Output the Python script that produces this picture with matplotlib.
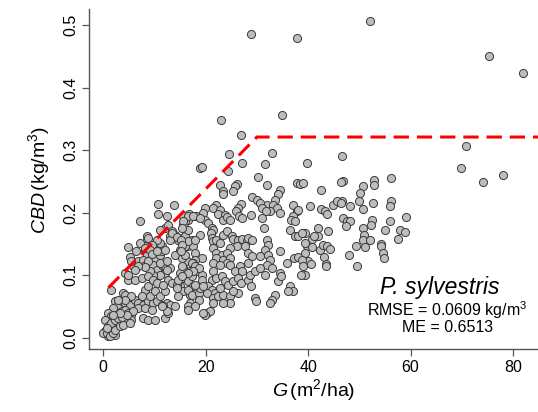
import numpy as np
import matplotlib
matplotlib.use("Agg")
import matplotlib.pyplot as plt

# ======================================================
# DATA
# ======================================================
# stand basal area G (m2/ha) and crown bulk density CBD (kg/m3)
g_high = [46.6, 56.2, 52.9, 52.9, 50.8, 50.1, 46.8, 46.6, 48.2, 50.0, 50.7, 52.7, 56.2, 56.0,
          46.8, 47.5, 48.2, 47.4, 52.5, 52.2, 56.0, 59.1, 50.7, 55.0, 57.9, 58.9, 57.6, 50.9,
          50.7, 52.0, 54.2, 54.2, 49.4, 51.1, 48.0, 54.6, 54.9, 49.6, 39.7, 46.4, 42.5, 40.4,
          42.5, 43.3, 43.6, 44.9, 45.6, 46.4, 39.4, 40.8, 42.0, 42.0, 43.9, 39.7, 40.7, 42.3,
          43.0, 43.6, 44.3, 39.4, 39.9, 43.2, 43.4, 43.4, 40.6, 39.4]
cbd_high = [0.290, 0.256, 0.253, 0.244, 0.242, 0.232, 0.250, 0.218, 0.211, 0.219, 0.206, 0.215, 0.219, 0.211,
            0.191, 0.186, 0.186, 0.178, 0.189, 0.180, 0.187, 0.193, 0.175, 0.172, 0.173, 0.169, 0.158, 0.165,
            0.157, 0.157, 0.150, 0.146, 0.146, 0.145, 0.133, 0.136, 0.127, 0.114, 0.279, 0.249, 0.237, 0.211,
            0.206, 0.203, 0.198, 0.212, 0.218, 0.216, 0.167, 0.158, 0.162, 0.175, 0.171, 0.146, 0.145, 0.140,
            0.149, 0.147, 0.142, 0.135, 0.122, 0.129, 0.118, 0.114, 0.118, 0.100]

g_mid = [33.0, 31.6, 37.8, 38.4, 39.1, 31.9, 34.5, 34.1, 33.5, 31.9, 33.2, 33.9, 34.5, 32.6,
         37.1, 37.8, 37.1, 36.7, 37.4, 38.1, 36.5, 37.4, 38.1, 38.9, 41.2, 39.4, 31.9, 32.2,
         31.6, 32.2, 32.6, 31.9, 32.9, 34.5, 35.8, 37.3, 38.0, 38.8, 39.1, 38.6, 34.5, 34.2,
         34.8, 36.5, 37.1, 36.1, 33.5, 32.9, 32.6]
cbd_mid = [0.295, 0.278, 0.248, 0.246, 0.247, 0.244, 0.236, 0.230, 0.221, 0.212, 0.212, 0.207, 0.200, 0.203,
           0.212, 0.202, 0.194, 0.189, 0.186, 0.204, 0.172, 0.162, 0.162, 0.167, 0.163, 0.151, 0.156, 0.148,
           0.140, 0.132, 0.124, 0.116, 0.111, 0.138, 0.119, 0.127, 0.129, 0.125, 0.114, 0.100, 0.103, 0.090,
           0.098, 0.082, 0.074, 0.075, 0.068, 0.061, 0.055]

g_low = [24.6, 18.9, 19.2, 27.0, 24.4, 30.3, 22.8, 23.4, 23.3, 26.1, 25.7, 25.3, 29.0, 30.1,
         30.6, 30.9, 31.8, 26.8, 26.4, 25.9, 26.6, 27.0, 22.1, 21.5, 22.8, 22.5, 23.8, 23.4,
         24.2, 24.7, 19.9, 19.4, 18.1, 16.8, 15.6, 16.6, 15.5, 19.9, 20.5, 21.2, 21.4, 28.8,
         30.9, 31.3, 18.9, 17.3, 16.2, 15.0, 15.6, 16.6, 17.6, 17.9, 15.0, 16.0, 21.0, 21.2,
         21.5, 22.1, 22.8, 23.4, 24.1, 25.1, 25.4, 26.4, 27.0, 28.0, 28.3, 29.0, 27.7, 26.1,
         24.7, 21.5, 22.1, 23.1, 22.0, 23.4, 24.1, 24.7, 24.1, 21.5, 22.8, 24.7, 28.3, 29.0,
         30.6, 28.3, 26.7, 25.7, 27.0, 19.2, 17.9, 17.6, 16.3, 15.6, 16.9, 18.2, 15.0, 15.6,
         16.6, 17.3, 17.6, 21.5, 21.2, 22.1, 23.1, 23.8, 24.4, 25.4, 26.4, 26.8, 28.3, 28.8,
         28.7, 29.6, 30.6, 31.6, 20.5, 21.2, 20.2, 21.8, 21.5, 22.5, 23.4, 24.7, 26.4, 24.7,
         23.4, 21.5, 22.8, 25.4, 29.6, 29.8, 16.9, 16.9, 16.6, 15.0, 15.5, 20.2, 20.8, 19.9]
cbd_low = [0.294, 0.271, 0.273, 0.279, 0.266, 0.257, 0.244, 0.234, 0.230, 0.246, 0.242, 0.235, 0.225, 0.221,
           0.216, 0.207, 0.202, 0.214, 0.207, 0.202, 0.195, 0.191, 0.212, 0.207, 0.204, 0.198, 0.196, 0.189,
           0.193, 0.188, 0.207, 0.200, 0.195, 0.198, 0.194, 0.188, 0.180, 0.188, 0.183, 0.175, 0.172, 0.196,
           0.191, 0.175, 0.164, 0.156, 0.156, 0.159, 0.146, 0.146, 0.146, 0.135, 0.140, 0.130, 0.167, 0.159,
           0.154, 0.156, 0.151, 0.164, 0.170, 0.162, 0.158, 0.157, 0.158, 0.154, 0.159, 0.156, 0.146, 0.146,
           0.143, 0.143, 0.135, 0.132, 0.127, 0.124, 0.135, 0.127, 0.120, 0.119, 0.116, 0.116, 0.135, 0.130,
           0.131, 0.119, 0.114, 0.106, 0.106, 0.127, 0.124, 0.119, 0.122, 0.111, 0.106, 0.106, 0.103, 0.095,
           0.090, 0.098, 0.082, 0.106, 0.092, 0.095, 0.098, 0.090, 0.084, 0.090, 0.095, 0.087, 0.092, 0.082,
           0.100, 0.106, 0.111, 0.100, 0.082, 0.076, 0.071, 0.071, 0.063, 0.066, 0.068, 0.066, 0.071, 0.055,
           0.055, 0.055, 0.079, 0.074, 0.063, 0.058, 0.068, 0.055, 0.050, 0.082, 0.074, 0.039, 0.042, 0.036]

g_young = [10.6, 13.9, 10.6, 12.4, 7.2, 8.5, 8.5, 8.8, 4.9, 6.3, 8.1, 8.5, 5.2, 4.2,
           4.9, 5.9, 6.8, 7.8, 9.1, 10.1, 11.1, 11.4, 11.4, 12.1, 10.4, 8.0, 9.8, 10.4,
           11.4, 12.1, 13.0, 12.1, 11.1, 9.8, 9.1, 14.0, 15.3, 16.0, 16.0, 17.3, 17.9, 19.2,
           18.6, 17.6, 16.6, 15.3, 14.0, 16.0, 16.6, 17.9, 16.0, 16.6, 17.6, 18.9, 15.8, 16.6,
           12.1, 12.7, 13.0, 14.0, 13.0, 14.5, 11.1, 10.4, 9.5, 8.1, 7.2, 1.6, 2.3, 2.9,
           1.9, 3.6, 4.2, 4.9, 5.2, 6.2, 6.8, 7.8, 8.8, 9.8, 10.4, 11.4, 12.4, 13.0,
           14.0, 3.9, 4.2, 8.1, 7.5, 9.1, 8.8, 10.1, 11.1, 12.1, 1.0, 1.6, 2.9, 3.6,
           4.2, 4.9, 5.5, 3.3, 1.9, 1.3, 0.3, 1.0, 2.3, 1.6, 4.2, 4.9, 2.9, 0.7,
           0.0, 7.8, 8.8, 10.1, 12.1, 6.8, 5.9, 11.7, 12.7, 16.6, 17.3, 18.6, 18.9, 17.9,
           19.2, 19.5, 18.6, 17.9, 16.6, 19.5, 11.1, 13.5, 15.6, 15.3, 13.5, 14.3, 15.2, 8.1,
           9.1, 9.5, 10.4, 15.4, 15.2, 5.5, 8.8, 11.1, 12.4, 12.4, 8.1, 6.8, 6.2, 4.8,
           6.2, 7.5, 8.8, 9.8, 10.4, 12.7, 11.7, 13.4, 14.3, 14.6, 15.4, 14.3, 14.6, 0.3,
           1.0, 1.6, 2.3, 2.9, 3.6, 5.5, 4.6, 3.3, 1.9, 0.7, 1.3, 1.9, 2.3, 3.3,
           3.9, 5.2, 0.7, 5.5, 4.2, 2.9, 8.1, 9.5, 12.4, 11.4]
cbd_young = [0.214, 0.212, 0.198, 0.195, 0.187, 0.163, 0.156, 0.159, 0.145, 0.138, 0.140, 0.132, 0.129, 0.103,
             0.092, 0.115, 0.122, 0.125, 0.124, 0.127, 0.132, 0.146, 0.138, 0.140, 0.146, 0.114, 0.116, 0.108,
             0.116, 0.114, 0.111, 0.103, 0.100, 0.100, 0.106, 0.132, 0.127, 0.146, 0.132, 0.119, 0.114, 0.100,
             0.111, 0.106, 0.103, 0.114, 0.159, 0.162, 0.154, 0.156, 0.186, 0.195, 0.194, 0.191, 0.177, 0.172,
             0.175, 0.180, 0.162, 0.164, 0.156, 0.156, 0.151, 0.156, 0.148, 0.146, 0.151, 0.076, 0.058, 0.052,
             0.047, 0.058, 0.055, 0.058, 0.052, 0.060, 0.055, 0.052, 0.058, 0.055, 0.058, 0.052, 0.055, 0.052,
             0.050, 0.071, 0.068, 0.076, 0.066, 0.066, 0.082, 0.074, 0.066, 0.074, 0.039, 0.034, 0.036, 0.042,
             0.031, 0.028, 0.036, 0.026, 0.020, 0.012, 0.010, 0.002, 0.004, 0.026, 0.044, 0.039, 0.018, 0.026,
             0.007, 0.031, 0.028, 0.028, 0.031, 0.047, 0.042, 0.050, 0.039, 0.076, 0.068, 0.071, 0.079, 0.084,
             0.092, 0.082, 0.060, 0.050, 0.044, 0.039, 0.173, 0.170, 0.186, 0.175, 0.167, 0.161, 0.156, 0.143,
             0.140, 0.134, 0.138, 0.148, 0.138, 0.122, 0.122, 0.119, 0.122, 0.108, 0.113, 0.114, 0.109, 0.100,
             0.092, 0.095, 0.098, 0.092, 0.087, 0.092, 0.084, 0.087, 0.084, 0.092, 0.098, 0.079, 0.066, 0.028,
             0.018, 0.023, 0.028, 0.031, 0.033, 0.028, 0.036, 0.039, 0.036, 0.007, 0.002, 0.007, 0.012, 0.018,
             0.020, 0.023, 0.015, 0.066, 0.060, 0.060, 0.047, 0.044, 0.042, 0.050]

g_outlier = [28.8, 37.8, 52.0, 75.4, 82.0, 23.0, 35.0, 26.8, 70.8, 69.9, 74.1, 78.0]
cbd_outlier = [0.486, 0.479, 0.507, 0.450, 0.424, 0.349, 0.357, 0.324, 0.306, 0.272, 0.249, 0.260]

# upper boundary line (dashed)
g_bound = [1.0, 30.0, 85.0]
cbd_bound = [0.080, 0.321, 0.321]

# ======================================================
# PLOT
# ======================================================
plt.rcParams["font.family"] = ["Liberation Sans", "DejaVu Sans"]
plt.rcParams["mathtext.fontset"] = "custom"
plt.rcParams["mathtext.rm"] = "Liberation Sans"
plt.rcParams["mathtext.it"] = "Liberation Sans:italic"

g = np.concatenate([g_high, g_mid, g_low, g_young, g_outlier])
cbd = np.concatenate([cbd_high, cbd_mid, cbd_low, cbd_young, cbd_outlier])

fig = plt.figure(figsize=(5.38, 4.12), dpi=100)
ax = fig.add_axes([0.166, 0.152, 0.834, 0.825])

ax.scatter(g, cbd, s=34, facecolor="#bdbdbd", edgecolor="#3a3a3a", linewidth=0.7, zorder=2)
ax.plot(g_bound, cbd_bound, color="red", linewidth=2.2, dashes=(5, 2.6), zorder=3)

ax.set_xlim(-2.73, 84.9)
ax.set_ylim(-0.0186, 0.525)
ax.set_xticks([0, 20, 40, 60, 80])
ax.set_yticks([0.0, 0.1, 0.2, 0.3, 0.4, 0.5])
ax.set_yticklabels(["0.0", "0.1", "0.2", "0.3", "0.4", "0.5"], rotation=90, va="center")

for side in ["top", "right"]:
    ax.spines[side].set_visible(False)
for side in ["left", "bottom"]:
    ax.spines[side].set_color("#555555")
    ax.spines[side].set_linewidth(1.0)
ax.tick_params(direction="out", length=5, width=0.9, color="#555555", labelsize=11.5, pad=3)

ax.set_xlabel(r"$\mathit{G}\,\mathrm{(m^2/ha)}$", fontsize=14, labelpad=1)
ax.set_ylabel(r"$\mathit{CBD}\,\mathrm{(kg/m^3)}$", fontsize=14, labelpad=8)

fig.text(0.818, 0.301, "P. sylvestris", fontsize=16.5, style="italic", ha="center", va="center")
fig.text(0.831, 0.247, r"RMSE = 0.0609 kg/m$^3$", fontsize=11.5, ha="center", va="center")
fig.text(0.831, 0.204, "ME = 0.6513", fontsize=11.5, ha="center", va="center")

fig.savefig("out.png", dpi=100)
